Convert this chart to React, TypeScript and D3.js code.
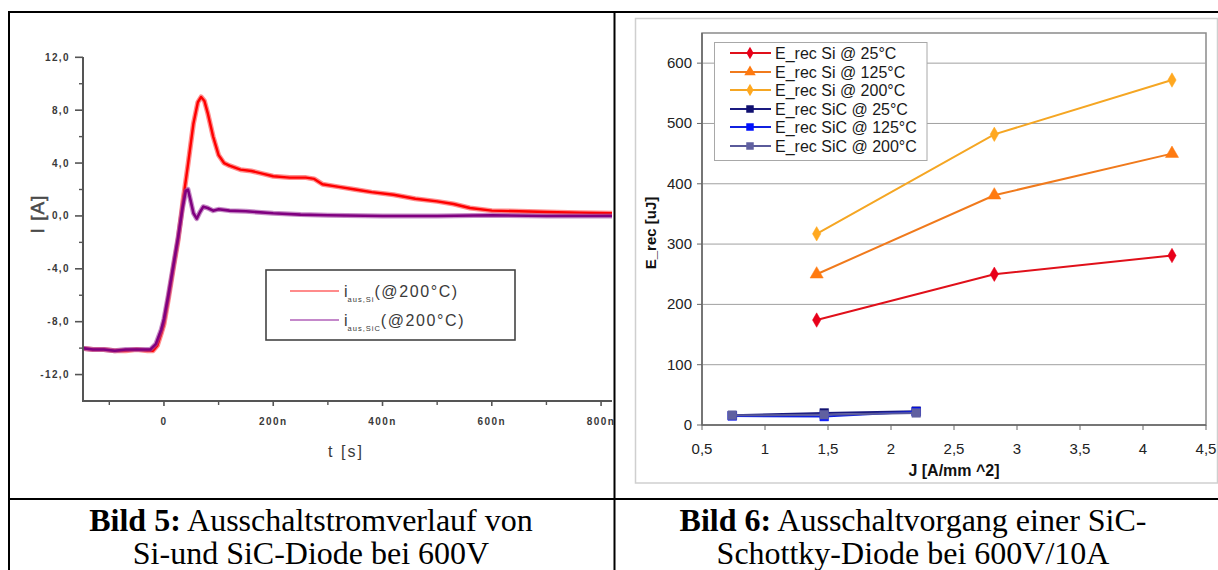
import React from 'react';
import * as d3 from 'd3';

// ---------- Left chart data (Bild 5) ----------
const siTime = [-150, -130, -110, -90, -70, -50, -30, -20, -12, -5, 0, 8, 17, 26, 35, 44, 54, 62, 68, 74, 80, 90, 100, 110, 120, 140, 160, 180, 200, 230, 260, 275, 290, 320, 350, 380, 420, 460, 500, 530, 560, 600, 650, 700, 760, 820];
const siCurrent = [-10.0, -10.1, -10.1, -10.2, -10.2, -10.1, -10.2, -10.2, -9.8, -8.9, -8.2, -6.3, -4.0, -1.8, 1.2, 3.9, 7.0, 8.6, 9.0, 8.7, 7.8, 6.0, 4.6, 4.0, 3.8, 3.5, 3.4, 3.2, 3.0, 2.9, 2.9, 2.8, 2.4, 2.2, 2.0, 1.8, 1.6, 1.3, 1.1, 0.9, 0.6, 0.4, 0.35, 0.3, 0.25, 0.2];
const sicTime = [-150, -130, -110, -90, -70, -50, -25, -15, -5, 0, 8, 17, 26, 34, 40, 44, 48, 54, 60, 66, 72, 80, 90, 100, 120, 150, 200, 250, 300, 400, 500, 600, 700, 820];
const sicCurrent = [-10.0, -10.1, -10.1, -10.2, -10.1, -10.1, -10.1, -9.7, -8.6, -7.8, -6.0, -3.8, -1.6, 0.6, 1.9, 2.0, 1.3, 0.2, -0.2, 0.3, 0.7, 0.6, 0.4, 0.5, 0.4, 0.35, 0.2, 0.1, 0.05, 0.0, 0.0, 0.05, 0.0, 0.0];
const leftYMajor = [-12, -8, -4, 0, 4, 8, 12];
const leftYLabels = ['-12,0', '-8,0', '-4,0', '0,0', '4,0', '8,0', '12,0'];
const leftYMinor = [-10, -6, -2, 2, 6, 10];
const leftXMajor = [0, 200, 400, 600, 800];
const leftXLabels = ['0', '200n', '400n', '600n', '800n'];
const leftXMinor = [-100, 100, 300, 500, 700];

// ---------- Right chart data (Bild 6) ----------
const jSi = [1.41, 2.82, 4.23];
const eSi25 = [174, 250, 281];
const eSi125 = [250, 381, 450];
const eSi200 = [317, 482, 572];
const jSiC = [0.74, 1.47, 2.2];
const eSiC25 = [16, 20, 23];
const eSiC125 = [15, 14, 22];
const eSiC200 = [16, 17, 20];
const rightSeriesNames = ['E_rec Si @ 25°C', 'E_rec Si @ 125°C', 'E_rec Si @ 200°C', 'E_rec SiC @ 25°C', 'E_rec SiC @ 125°C', 'E_rec SiC @ 200°C'];
const rightXTicks = [0.5, 1, 1.5, 2, 2.5, 3, 3.5, 4, 4.5];
const rightXLabels = ['0,5', '1', '1,5', '2', '2,5', '3', '3,5', '4', '4,5'];
const rightYTicks = [0, 100, 200, 300, 400, 500, 600];

const LeftChart = () => {
  const x = d3.scaleLinear().domain([-150, 820]).range([82, 612]);
  const y = d3.scaleLinear().domain([-14, 12]).range([401, 57.3]);
  const mk = (ts: number[], vs: number[]) =>
    d3.line<number>().x((d) => x(d)).y((_, i) => y(vs[i]))(ts) || '';
  const siPath = mk(siTime, siCurrent);
  const sicPath = mk(sicTime, sicCurrent);
  const axisColor = '#555';
  const lab = '#3a3a3a';
  return (
    <g>
      <defs>
        <clipPath id="lclip">
          <rect x={82} y={40} width={531} height={362} />
        </clipPath>
      </defs>
      {/* traces */}
      <g clipPath="url(#lclip)" fill="none" strokeLinejoin="round">
        <path d={siPath} stroke="#ff3030" strokeWidth={5} opacity={0.55} />
        <path d={siPath} stroke="#ff0000" strokeWidth={2.4} />
        <path d={sicPath} stroke="#a040a0" strokeWidth={5} opacity={0.6} />
        <path d={sicPath} stroke="#800080" strokeWidth={2.6} />
      </g>
      {/* axes */}
      <line x1={83} x2={83} y1={57} y2={402} stroke={axisColor} strokeWidth={2} />
      <line x1={82} x2={612} y1={401} y2={401} stroke={axisColor} strokeWidth={2} />
      {leftYMajor.map((v, i) => (
        <g key={'ym' + v}>
          <line x1={75} x2={83} y1={y(v)} y2={y(v)} stroke={axisColor} strokeWidth={1.6} />
          <text x={70} y={y(v) + 3.5} textAnchor="end" fontFamily="Arial" fontWeight="bold" fontSize={10} letterSpacing={1.4} fill={lab}>
            {leftYLabels[i]}
          </text>
        </g>
      ))}
      {leftYMinor.map((v) => (
        <line key={'yn' + v} x1={79} x2={83} y1={y(v)} y2={y(v)} stroke={axisColor} strokeWidth={1.4} />
      ))}
      {leftXMajor.map((v, i) => (
        <g key={'xm' + v}>
          <line x1={x(v)} x2={x(v)} y1={401} y2={406} stroke={axisColor} strokeWidth={1.6} />
          <text x={x(v)} y={425} textAnchor="middle" fontFamily="Arial" fontWeight="bold" fontSize={10} letterSpacing={1.4} fill={lab}>
            {leftXLabels[i]}
          </text>
        </g>
      ))}
      {leftXMinor.map((v) => (
        <line key={'xn' + v} x1={x(v)} x2={x(v)} y1={401} y2={405} stroke={axisColor} strokeWidth={1.4} />
      ))}
      {/* axis titles */}
      <text transform="translate(44,214) rotate(-90)" textAnchor="middle" fontFamily="Arial" fontSize={19} fill="#4a4a4a" stroke="#4a4a4a" strokeWidth={0.5} letterSpacing={1}>
        I [A]
      </text>
      <text x={346} y={457} textAnchor="middle" fontFamily="Arial" fontSize={16} fill={lab} letterSpacing={2}>
        t [s]
      </text>
      {/* legend */}
      <rect x={266} y={270} width={249} height={70} fill="#fff" stroke="#444" strokeWidth={1.6} />
      <line x1={290} x2={339} y1={291} y2={291} stroke="#ff6464" strokeWidth={1.6} />
      <line x1={290} x2={339} y1={320} y2={320} stroke="#b060b8" strokeWidth={1.6} />
      <text x={344} y={297} fontFamily="Arial" fontSize={16} fill={lab}>
        i<tspan fontSize={7.5} dy={5} letterSpacing={1}>aus,Si</tspan>
        <tspan dy={-5} letterSpacing={1.6}>(@200°C)</tspan>
      </text>
      <text x={344} y={326} fontFamily="Arial" fontSize={16} fill={lab}>
        i<tspan fontSize={7.5} dy={5} letterSpacing={1}>aus,SiC</tspan>
        <tspan dy={-5} letterSpacing={1.6}>(@200°C)</tspan>
      </text>
    </g>
  );
};

const RightChart = () => {
  const x = d3.scaleLinear().domain([0.5, 4.5]).range([702, 1206]);
  const y = d3.scaleLinear().domain([0, 650]).range([425, 33]);
  const series = [
    { xs: jSi, ys: eSi25, color: '#e0101a', fill: '#e8001a', sym: d3.symbolDiamond, size: 60 },
    { xs: jSi, ys: eSi125, color: '#f07a1c', fill: '#ff7a10', sym: d3.symbolTriangle, size: 75 },
    { xs: jSi, ys: eSi200, color: '#f5a623', fill: '#ffa820', sym: d3.symbolDiamond, size: 60 },
    { xs: jSiC, ys: eSiC25, color: '#1a1a80', fill: '#101070', sym: d3.symbolSquare, size: 75 },
    { xs: jSiC, ys: eSiC125, color: '#1020e0', fill: '#0010ff', sym: d3.symbolSquare, size: 75 },
    { xs: jSiC, ys: eSiC200, color: '#5a5a9a', fill: '#6060a0', sym: d3.symbolSquare, size: 75 },
  ];
  const legendY = [53, 72, 90, 109, 127, 146];
  return (
    <g>
      {/* chart frame */}
      <rect x={635.5} y={18.5} width={582} height={464.5} fill="#fff" stroke="#cfcfcf" strokeWidth={1.5} />
      {/* plot area */}
      <rect x={702} y={33} width={504} height={392} fill="#fff" stroke="#8a8a8a" strokeWidth={1.5} />
      {rightYTicks.filter((v) => v > 0).map((v) => (
        <line key={'g' + v} x1={702} x2={1206} y1={y(v)} y2={y(v)} stroke="#a0a0a0" strokeWidth={1} />
      ))}
      <line x1={702} x2={702} y1={33} y2={425} stroke="#666" strokeWidth={1.5} />
      <line x1={702} x2={1206} y1={425} y2={425} stroke="#666" strokeWidth={1.5} />
      {rightYTicks.map((v) => (
        <g key={'yt' + v}>
          <line x1={697} x2={702} y1={y(v)} y2={y(v)} stroke="#666" strokeWidth={1} />
          <text x={692} y={y(v) + 5} textAnchor="end" fontFamily="Arial" fontSize={15} fill="#222">
            {v}
          </text>
        </g>
      ))}
      {rightXTicks.map((v, i) => (
        <g key={'xt' + v}>
          <line x1={x(v)} x2={x(v)} y1={425} y2={430} stroke="#666" strokeWidth={1} />
          <text x={x(v)} y={454} textAnchor="middle" fontFamily="Arial" fontSize={15} fill="#222">
            {rightXLabels[i]}
          </text>
        </g>
      ))}
      <text transform="translate(656,233) rotate(-90)" textAnchor="middle" fontFamily="Arial" fontWeight="bold" fontSize={15} fill="#111">
        E_rec [uJ]
      </text>
      <text x={954} y={476} textAnchor="middle" fontFamily="Arial" fontWeight="bold" fontSize={16} fill="#111">
        J [A/mm ^2]
      </text>
      {/* series */}
      {series.map((s, si) => {
        const p = d3.line<number>().x((d) => x(d)).y((_, i) => y(s.ys[i]))(s.xs) || '';
        const sym = d3.symbol().type(s.sym).size(s.size)() || '';
        return (
          <g key={'s' + si}>
            <path d={p} fill="none" stroke={s.color} strokeWidth={2} />
            {s.xs.map((xv, i) => (
              <path key={i} d={sym} transform={`translate(${x(xv)},${y(s.ys[i])})`} fill={s.fill} stroke={s.fill} strokeWidth={0.5} />
            ))}
          </g>
        );
      })}
      {/* legend */}
      <rect x={714.5} y={42.5} width={212.5} height={118} fill="#fff" stroke="#a8a8a8" strokeWidth={1} />
      {series.map((s, i) => {
        const sym = d3.symbol().type(s.sym).size(s.size * 0.75)() || '';
        return (
          <g key={'l' + i}>
            <line x1={730} x2={771} y1={legendY[i]} y2={legendY[i]} stroke={s.color} strokeWidth={2} />
            <path d={sym} transform={`translate(750,${legendY[i]})`} fill={s.fill} />
            <text x={775} y={legendY[i] + 5.5} fontFamily="Arial" fontSize={16} fill="#1a1a1a">
              {rightSeriesNames[i]}
            </text>
          </g>
        );
      })}
    </g>
  );
};

const Captions = () => {
  const f = 'Liberation Serif, Times New Roman, serif';
  return (
    <g fontFamily={f} fontSize={32} fill="#000" textAnchor="middle">
      <text x={311} y={531}>
        <tspan fontWeight="bold">Bild 5:</tspan> Ausschaltstromverlauf von
      </text>
      <text x={311} y={564}>Si-und SiC-Diode bei 600V</text>
      <text x={913} y={531}>
        <tspan fontWeight="bold">Bild 6:</tspan> Ausschaltvorgang einer SiC-
      </text>
      <text x={913} y={564}>Schottky-Diode bei 600V/10A</text>
    </g>
  );
};

export default function App() {
  return (
    <svg width={1218} height={570} style={{ position: 'absolute', left: 0, top: 0, background: '#fff' }}>
      <rect x={0} y={0} width={1218} height={570} fill="#fff" />
      <RightChart />
      <LeftChart />
      {/* table borders */}
      <line x1={8} x2={1218} y1={12} y2={12} stroke="#000" strokeWidth={2} />
      <line x1={9} x2={9} y1={11} y2={570} stroke="#000" strokeWidth={2} />
      <line x1={614.5} x2={614.5} y1={11} y2={570} stroke="#000" strokeWidth={2} />
      <line x1={8} x2={1218} y1={499} y2={499} stroke="#000" strokeWidth={2} />
      <Captions />
    </svg>
  );
}
